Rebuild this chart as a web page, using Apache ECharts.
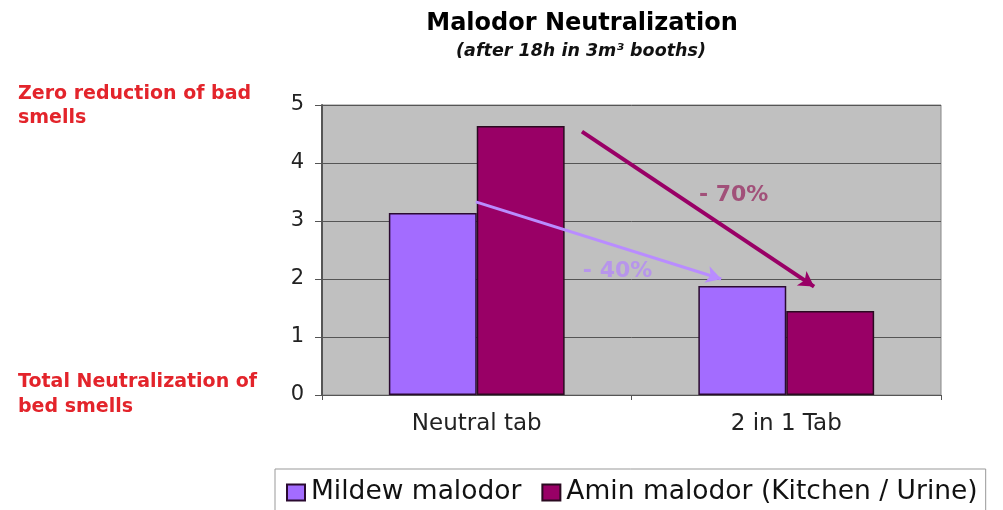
<!DOCTYPE html>
<html><head><meta charset="utf-8">
<script src="https://cdn.jsdelivr.net/npm/echarts@6/dist/echarts.min.js"></script>
<style>html,body{margin:0;padding:0;background:#fff}#c{width:1003px;height:510px}</style>
</head><body><div id="c"></div>
<script>
var categories = ['Neutral tab', '2 in 1 Tab'];
var seriesNames = ['Mildew malodor', 'Amin malodor (Kitchen / Urine)'];
var mildew = [3.14, 1.88];
var amin = [4.64, 1.45];
var yTicks = [0, 1, 2, 3, 4, 5];
// annotation arrows on a hidden 0..2 x scale spanning the two categories
var mildewArrow = [[0.497, 3.33], [1.29, 2.0]];
var aminArrow = [[0.84, 4.54], [1.59, 1.87]];
var annotLabels = [['- 70%', 1.33, 3.45], ['- 40%', 0.955, 2.13]];

var chart = echarts.init(document.getElementById('c'));
var F = '"DejaVu Sans", Verdana, sans-serif';
chart.setOption({
  backgroundColor: '#fff',
  animation: false,
  title: [
    {text: 'Malodor Neutralization', left: 582, top: 12, padding: 0, textAlign: 'center',
     textStyle: {fontFamily: F, fontSize: 24, fontWeight: 'bold', color: '#000'}},
    {text: '(after 18h in 3m\u00B3 booths)', left: 581, top: 42, padding: 0, textAlign: 'center',
     textStyle: {fontFamily: F, fontSize: 17.5, fontWeight: 'bold', fontStyle: 'italic', color: '#111'}},
    {text: 'Zero reduction of bad\nsmells', left: 18, top: 82, padding: 0,
     textStyle: {fontFamily: F, fontSize: 19, fontWeight: 'bold', color: '#E3242B', lineHeight: 24}},
    {text: 'Total Neutralization of\nbed smells', left: 18, top: 370, padding: 0,
     textStyle: {fontFamily: F, fontSize: 19, fontWeight: 'bold', color: '#E3242B', lineHeight: 25}}
  ],
  legend: {
    data: seriesNames, left: 275, top: 469,
    padding: [10, 8, 14, 11], itemGap: 20, itemWidth: 18, itemHeight: 16,
    borderColor: '#999', borderWidth: 1, icon: 'rect',
    textStyle: {fontFamily: F, fontSize: 26.5, color: '#111', padding: [0, 0, 0, 1]}
  },
  grid: {left: 322, right: 62, top: 105, bottom: 115, show: true,
         backgroundColor: '#C0C0C0', borderColor: '#888', borderWidth: 1},
  xAxis: [
    {type: 'category', data: categories,
     axisLine: {lineStyle: {color: '#555', width: 1}},
     axisTick: {show: true, length: 5, lineStyle: {color: '#555'}},
     axisLabel: {fontFamily: F, fontSize: 23, color: '#222', margin: 18}},
    {type: 'value', min: 0, max: 2, show: false}
  ],
  yAxis: {type: 'value', min: 0, max: 5, interval: 1,
    axisLine: {show: true, lineStyle: {color: '#555', width: 2}},
    axisTick: {show: true, inside: false, length: 7, lineStyle: {color: '#555'}},
    axisLabel: {fontFamily: F, fontSize: 21, color: '#222', margin: 18,
      formatter: function (v) { return yTicks.indexOf(v) >= 0 ? String(v) : ''; }},
    splitLine: {show: true, lineStyle: {color: '#555', width: 1}}
  },
  series: [
    {name: seriesNames[0], type: 'bar', data: mildew, barWidth: '28.4%', barGap: '0%',
     itemStyle: {color: '#A36CFF', borderColor: '#2a0a30', borderWidth: 1.5}},
    {name: seriesNames[1], type: 'bar', data: amin, barWidth: '28.4%',
     itemStyle: {color: '#990066', borderColor: '#2a0a20', borderWidth: 1.5}},
    {type: 'scatter', xAxisIndex: 1, symbolSize: 0, silent: true,
     data: annotLabels.map(function (a, i) {
       return {value: [a[1], a[2]], label: {show: true, position: 'inside', formatter: a[0],
         fontFamily: F, fontSize: 22, fontWeight: 'bold',
         color: i === 0 ? '#993366' : '#B48AF5'}};
     }),
     markLine: {silent: true, symbol: ['none', 'arrow'], symbolSize: [13, 15], label: {show: false},
       data: [
         [{coord: aminArrow[0], lineStyle: {color: '#990066', width: 4, type: 'solid'}}, {coord: aminArrow[1]}],
         [{coord: mildewArrow[0], lineStyle: {color: '#B98CFF', width: 3, type: 'solid'}}, {coord: mildewArrow[1]}]
       ]}
    }
  ]
});
</script></body></html>
